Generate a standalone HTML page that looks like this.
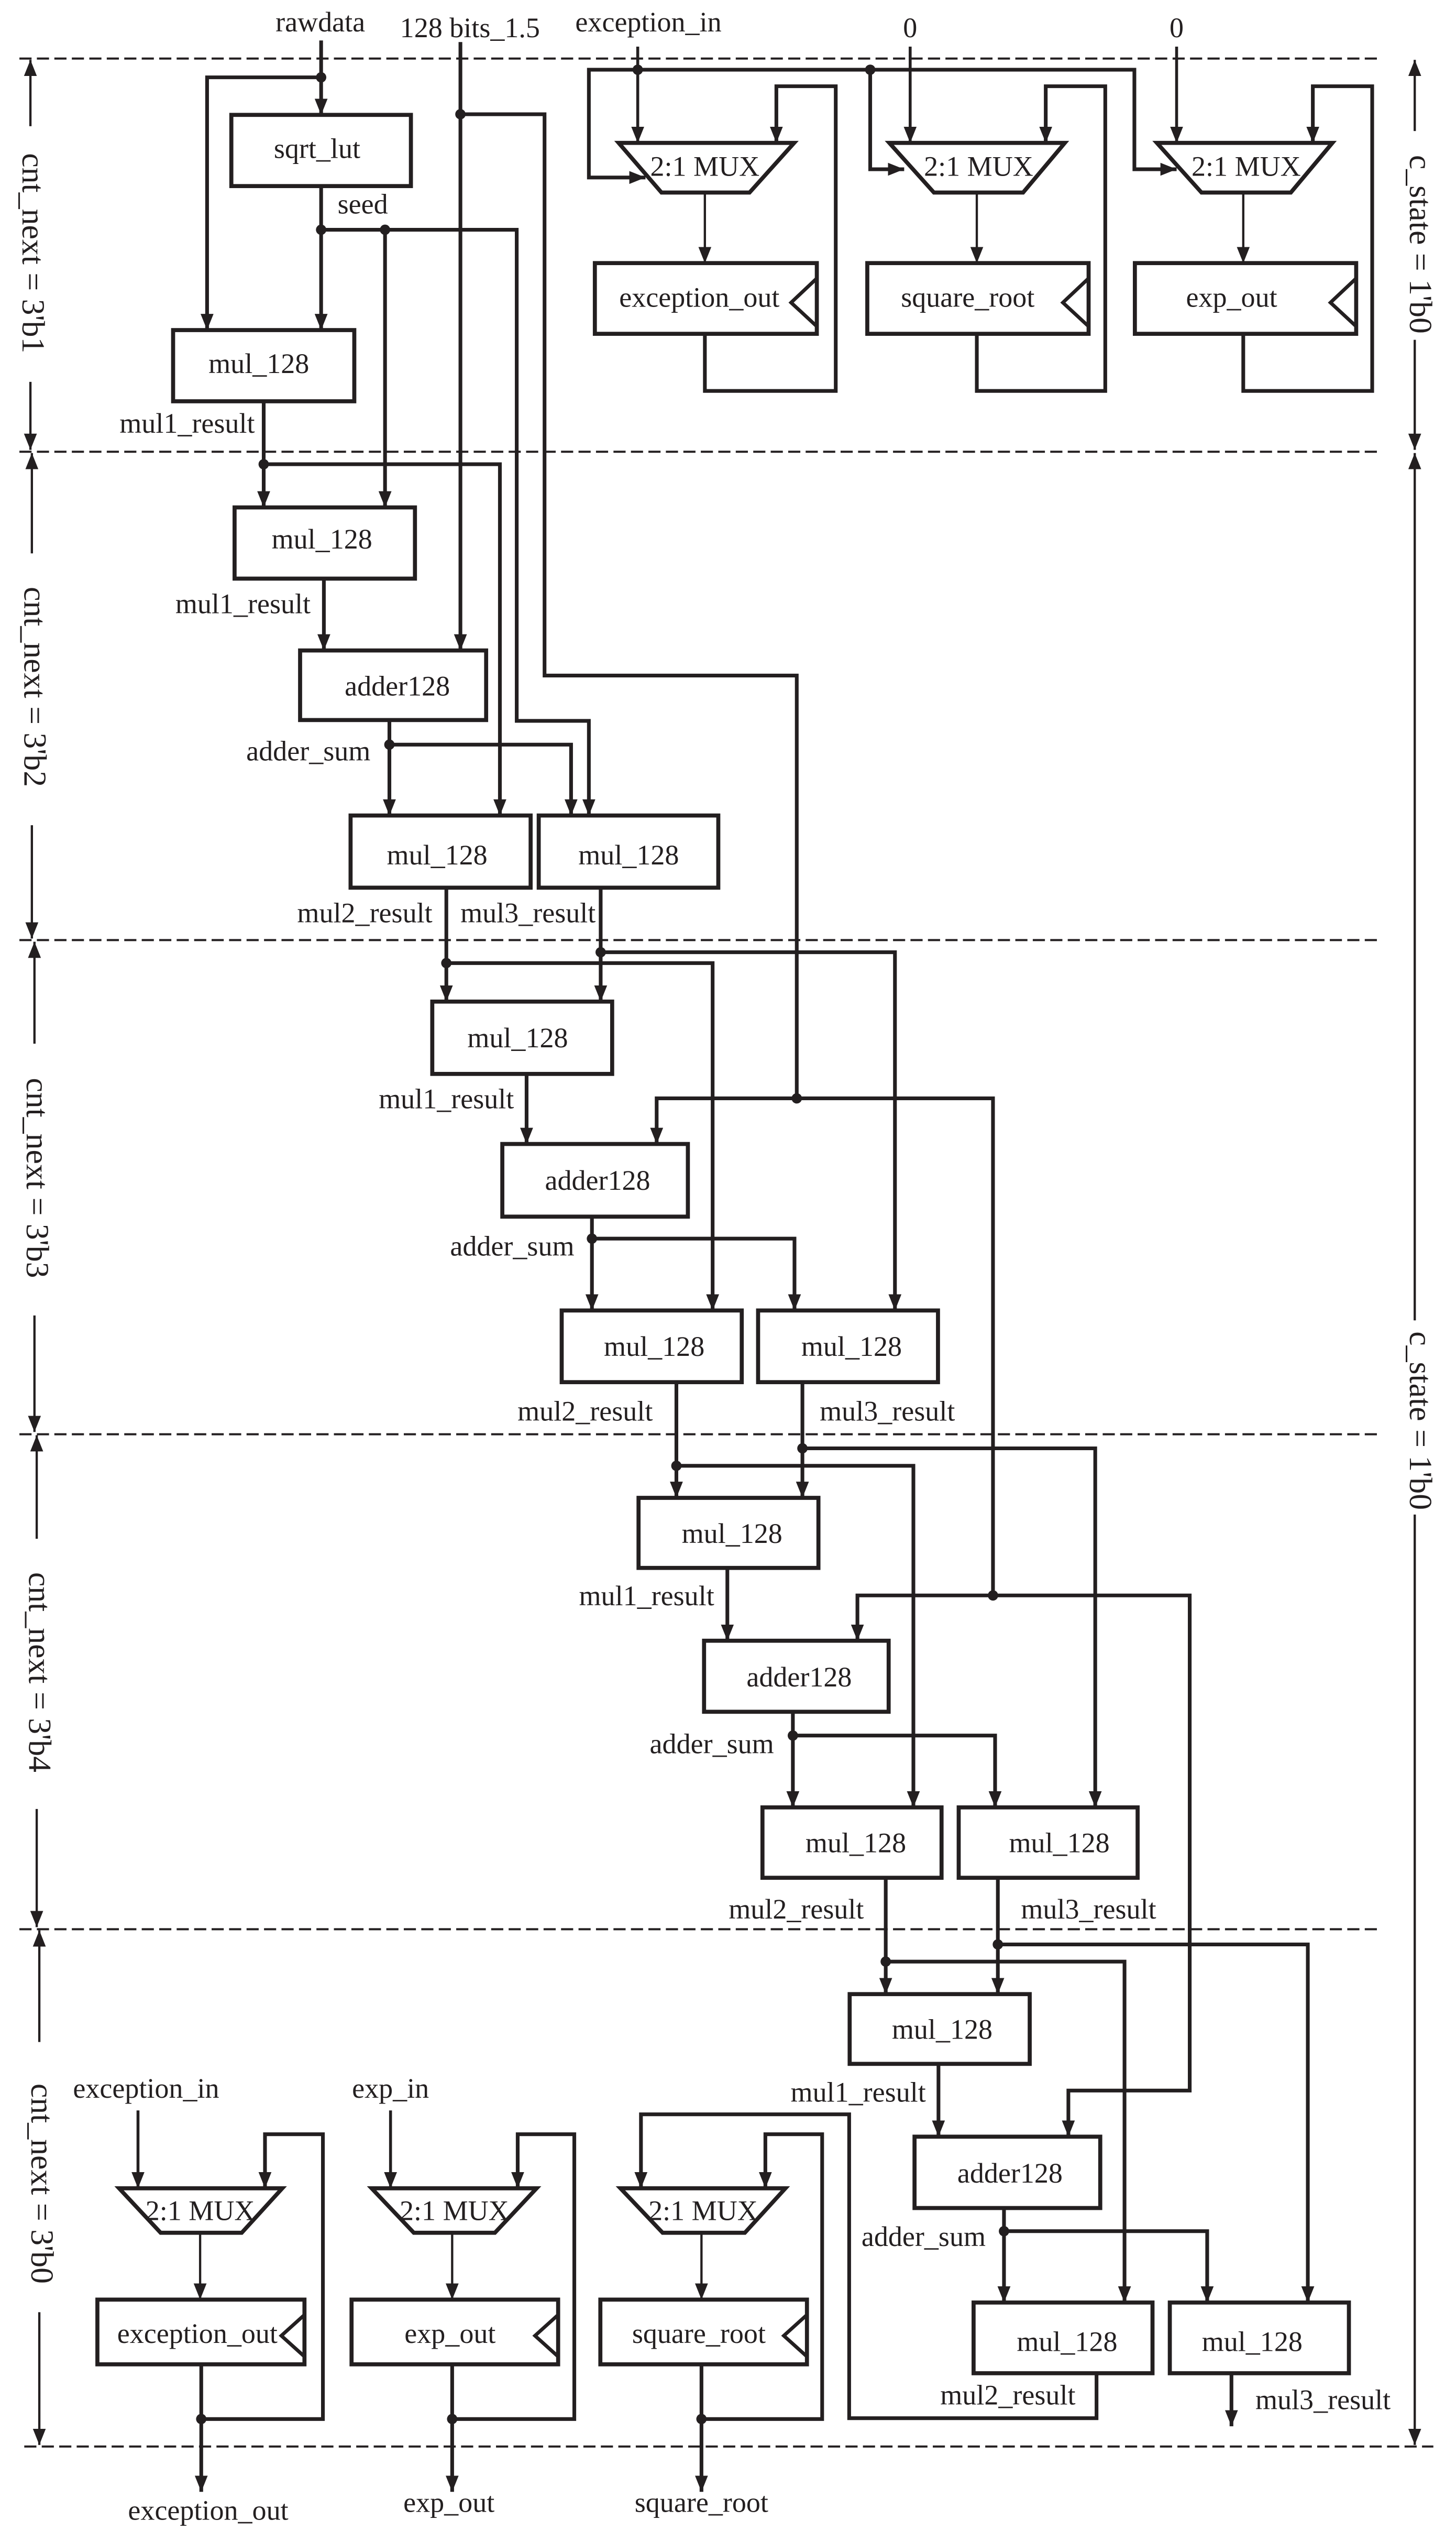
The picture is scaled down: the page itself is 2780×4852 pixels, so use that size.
<!DOCTYPE html>
<html><head><meta charset="utf-8"><style>
html,body{margin:0;padding:0;background:#fff}
svg{display:block}
text{font-family:"Liberation Serif","Times New Roman",serif;font-size:17.5px;fill:#231f20}
.w{fill:none;stroke:#231f20;stroke-width:2.3;stroke-linejoin:miter}
.t{fill:none;stroke:#231f20;stroke-width:1.4}
.b{fill:#fff;stroke:#231f20;stroke-width:2.5}
.d{fill:none;stroke:#231f20;stroke-width:1.3;stroke-dasharray:7.5 3.3}
.s{font-size:20px}
</style></head><body>
<svg width="2780" height="4852" viewBox="0 0 900 1571" preserveAspectRatio="none" xmlns="http://www.w3.org/2000/svg">
<defs><marker id="a" markerUnits="userSpaceOnUse" markerWidth="10" markerHeight="8" refX="10" refY="4" orient="auto"><path d="M0,0L10,4L0,8z" fill="#231f20"/></marker></defs>
<g fill="#231f20">
</g>
<!-- dashed separators -->
<path class="d" d="M12,36.2H852M12,279.2H852M12,581H852M12,886.4H852M12,1192.3H852M15,1512H886"/>
<!-- side labels -->
<g class="t" marker-end="url(#a)">
<path d="M18.8,78V37"/><path d="M18.8,236V278"/>
<path d="M19.7,342V280"/><path d="M19.7,510V580"/>
<path d="M21.3,645V582"/><path d="M21.3,813V885"/>
<path d="M22.7,951V887"/><path d="M22.7,1118V1191"/>
<path d="M24.3,1262V1193"/><path d="M24.3,1429V1511"/>
<path d="M874.5,81V37"/><path d="M874.5,210V278"/>
<path d="M874.5,816V280"/><path d="M874.5,936V1511"/>
</g>
<text class="s" transform="translate(14,156.5) rotate(90)" text-anchor="middle">cnt_next = 3'b1</text>
<text class="s" transform="translate(15,424.5) rotate(90)" text-anchor="middle">cnt_next = 3'b2</text>
<text class="s" transform="translate(16.5,728) rotate(90)" text-anchor="middle">cnt_next = 3'b3</text>
<text class="s" transform="translate(18,1033.5) rotate(90)" text-anchor="middle">cnt_next = 3'b4</text>
<text class="s" transform="translate(19.5,1349.5) rotate(90)" text-anchor="middle">cnt_next = 3'b0</text>
<text class="s" transform="translate(871.5,151) rotate(90)" text-anchor="middle">c_state = 1'b0</text>
<text class="s" transform="translate(871.5,878) rotate(90)" text-anchor="middle">c_state = 1'b0</text>

<!-- wires with arrows -->
<g class="w" marker-end="url(#a)">
<path d="M198.5,25V71"/>
<path d="M198.5,47.8H128V204"/>
<path d="M198.5,115V204"/>
<path d="M198.5,142H319.4V445.5H364V504"/>
<path d="M238,142V313.6"/>
<path d="M284.6,26V402"/>
<path d="M284.6,70.6H336.6V417.5H492.5V678.8H613.8V986H735.4V1292H660.4V1320.5"/>
<path d="M492.5,678.8H405.9V707"/>
<path d="M613.8,986H530V1014"/>
<path d="M163,248V313.6"/>
<path d="M163,286.9H309V504"/>
<path d="M200.2,357.6V402"/>
<path d="M240.7,445V504"/>
<path d="M240.7,460.2H353V504"/>
<path d="M275.9,548.6V619"/>
<path d="M275.9,595.2H440.5V809.9"/>
<path d="M371.3,548.6V619"/>
<path d="M371.3,588.5H553.2V809.9"/>
<path d="M325.5,663.7V707"/>
<path d="M365.9,751.9V809.9"/>
<path d="M365.9,765.5H491.1V809.9"/>
<path d="M418.1,854.2V925.7"/>
<path d="M418.1,905.9H564.6V1117"/>
<path d="M496,854.2V925.7"/>
<path d="M496,895.1H677V1117"/>
<path d="M449.6,969V1014"/>
<path d="M490.1,1057.9V1117"/>
<path d="M490.1,1072.6H615.1V1117"/>
<path d="M547.5,1160.5V1232.4"/>
<path d="M547.5,1212.3H695.1V1423"/>
<path d="M616.8,1160.5V1232.4"/>
<path d="M616.8,1201.7H808.4V1423"/>
<path d="M580.1,1275.5V1320.5"/>
<path d="M620.6,1364.6V1423"/>
<path d="M620.6,1378.9H746.2V1423"/>
<path d="M677.8,1466.7V1494.5H524.9V1306.7H396.2V1352.4"/>
<path d="M761.2,1466.7V1499.5"/>
<!-- top right -->
<path d="M394.2,43.1H364V109.7H399"/>
<path d="M394.2,43.1H701.2V104.6H727.3"/>
<path d="M537.9,43.1V104.6H558.9"/>
<path d="M435.7,206.3V241.6H516.6V53.3H479.9V88.3"/>
<path d="M603.8,206.3V241.6H683.2V53.3H646.4V88.3"/>
<path d="M768.5,206.3V241.6H848.2V53.3H811.5V88.3"/>
<!-- bottom left -->
<path d="M124.4,1495H199.6V1319H163.8V1352.4"/>
<path d="M279.5,1495H355V1319H320V1352.4"/>
<path d="M433.6,1495H508.2V1319H473.1V1352.4"/>
<path d="M124.4,1461.2V1540"/>
<path d="M279.5,1461.2V1540"/>
<path d="M433.6,1461.2V1540"/>
</g>
<g class="t" style="stroke-width:1.8" marker-end="url(#a)">
<path d="M394.2,28.8V88.3"/>
<path d="M562.6,28.8V88.3"/>
<path d="M727.3,28.8V88.3"/>
<path d="M85.3,1304.3V1352.4"/>
<path d="M241.4,1304.3V1352.4"/>
</g>
<g class="t" marker-end="url(#a)">
<path d="M435.7,119V162.6"/>
<path d="M603.8,119V162.6"/>
<path d="M768.5,119V162.6"/>
<path d="M123.7,1379.9V1421.2"/>
<path d="M279.5,1379.9V1421.2"/>
<path d="M433.6,1379.9V1421.2"/>
</g>

<!-- dots -->
<g fill="#231f20">
<circle cx="198.5" cy="47.8" r="3.2"/><circle cx="198.5" cy="142" r="3.2"/><circle cx="238" cy="142" r="3.2"/>
<circle cx="284.6" cy="70.6" r="3.2"/><circle cx="163" cy="286.9" r="3.2"/><circle cx="240.7" cy="460.2" r="3.2"/>
<circle cx="275.9" cy="595.2" r="3.2"/><circle cx="371.3" cy="588.5" r="3.2"/><circle cx="492.5" cy="678.8" r="3.2"/>
<circle cx="365.9" cy="765.5" r="3.2"/><circle cx="418.1" cy="905.9" r="3.2"/><circle cx="496" cy="895.1" r="3.2"/>
<circle cx="613.8" cy="986" r="3.2"/><circle cx="490.1" cy="1072.6" r="3.2"/><circle cx="547.5" cy="1212.3" r="3.2"/>
<circle cx="616.8" cy="1201.7" r="3.2"/><circle cx="620.6" cy="1378.9" r="3.2"/>
<circle cx="394.2" cy="43.1" r="3.2"/><circle cx="537.9" cy="43.1" r="3.2"/>
<circle cx="124.4" cy="1495" r="3.2"/><circle cx="279.5" cy="1495" r="3.2"/><circle cx="433.6" cy="1495" r="3.2"/>
</g>

<!-- boxes -->
<g class="b">
<rect x="143" y="71" width="111" height="44"/>
<rect x="107" y="204" width="112" height="44"/>
<rect x="145" y="313.6" width="111.5" height="44"/>
<rect x="185.5" y="402" width="115" height="43"/>
<rect x="216.7" y="504" width="111.3" height="44.6"/>
<rect x="333" y="504" width="111" height="44.6"/>
<rect x="267.2" y="619" width="111.2" height="44.7"/>
<rect x="310.5" y="707" width="114.7" height="44.9"/>
<rect x="347.2" y="809.9" width="111.3" height="44.3"/>
<rect x="468.6" y="809.9" width="111.2" height="44.3"/>
<rect x="394.7" y="925.7" width="111.2" height="43.3"/>
<rect x="435.2" y="1014" width="114.1" height="43.9"/>
<rect x="471.3" y="1117" width="110.7" height="43.5"/>
<rect x="592.6" y="1117" width="110.6" height="43.5"/>
<rect x="525.2" y="1232.4" width="111.3" height="43.1"/>
<rect x="565.3" y="1320.5" width="114.8" height="44.1"/>
<rect x="601.8" y="1423" width="110.6" height="43.7"/>
<rect x="723.1" y="1423" width="110.7" height="43.7"/>
<!-- registers -->
<rect x="367.7" y="162.6" width="137.2" height="43.7"/>
<rect x="536.1" y="162.6" width="136.8" height="43.7"/>
<rect x="701.5" y="162.6" width="136.8" height="43.7"/>
<rect x="60.2" y="1421.2" width="128" height="40"/>
<rect x="217.3" y="1421.2" width="127.7" height="40"/>
<rect x="371.1" y="1421.2" width="127.7" height="40"/>
<!-- muxes -->
<polygon points="382.4,88.3 490.9,88.3 463.3,119 408.9,119"/>
<polygon points="549.7,88.3 658.2,88.3 632.4,119 577.3,119"/>
<polygon points="715.1,88.3 823.6,88.3 797.9,119 742.7,119"/>
<polygon points="73.6,1352.4 174.5,1352.4 149.4,1379.9 99.3,1379.9"/>
<polygon points="229.7,1352.4 331.7,1352.4 305.9,1379.9 255.8,1379.9"/>
<polygon points="383.5,1352.4 485.5,1352.4 460.4,1379.9 409.6,1379.9"/>
</g>
<!-- clock triangles -->
<g class="w" style="stroke-width:2.2">
<path d="M504.9,172L489,187L504.9,201.7"/>
<path d="M672.9,172L657,187L672.9,201.7"/>
<path d="M838.3,172L822.4,187L838.3,201.7"/>
<path d="M188.2,1430.6L173.9,1443.5L188.2,1456.4"/>
<path d="M345,1430.6L330.7,1443.5L345,1456.4"/>
<path d="M498.8,1430.6L484.5,1443.5L498.8,1456.4"/>
</g>

<!-- texts -->
<g text-anchor="middle">
<text x="198" y="19.5">rawdata</text>
<text x="290.5" y="23">128 bits_1.5</text>
<text x="400.8" y="19.5">exception_in</text>
<text x="562.6" y="23">0</text>
<text x="727.3" y="23">0</text>
<text x="196" y="97.6">sqrt_lut</text>
<text x="160" y="230.5">mul_128</text>
<text x="199" y="339">mul_128</text>
<text x="245.6" y="429.9">adder128</text>
<text x="270.2" y="534.2">mul_128</text>
<text x="388.6" y="534.2">mul_128</text>
<text x="320" y="647.2">mul_128</text>
<text x="369.4" y="735.3">adder128</text>
<text x="404.4" y="838">mul_128</text>
<text x="526.4" y="838">mul_128</text>
<text x="452.5" y="953.5">mul_128</text>
<text x="494" y="1042.2">adder128</text>
<text x="529" y="1144.8">mul_128</text>
<text x="654.8" y="1144.8">mul_128</text>
<text x="582.4" y="1260">mul_128</text>
<text x="624.3" y="1348.9">adder128</text>
<text x="659.6" y="1453">mul_128</text>
<text x="774" y="1453">mul_128</text>
<text x="435.7" y="108.7">2:1 MUX</text>
<text x="604.9" y="108.7">2:1 MUX</text>
<text x="770.3" y="108.7">2:1 MUX</text>
<text x="432.3" y="189.6">exception_out</text>
<text x="598.2" y="189.6">square_root</text>
<text x="761.3" y="189.6">exp_out</text>
<text x="90.3" y="1296.4">exception_in</text>
<text x="241.4" y="1296.4">exp_in</text>
<text x="123.7" y="1372">2:1 MUX</text>
<text x="280.8" y="1372">2:1 MUX</text>
<text x="434.6" y="1372">2:1 MUX</text>
<text x="122" y="1447.9">exception_out</text>
<text x="278.2" y="1447.9">exp_out</text>
<text x="432" y="1447.9">square_root</text>
<text x="128.7" y="1557.3">exception_out</text>
<text x="277.5" y="1552.4">exp_out</text>
<text x="433.6" y="1552.4">square_root</text>
</g>
<g text-anchor="end">
<text x="157.5" y="267.5">mul1_result</text>
<text x="192" y="379">mul1_result</text>
<text x="229" y="470">adder_sum</text>
<text x="267.3" y="570">mul2_result</text>
<text x="317.7" y="685">mul1_result</text>
<text x="355" y="776">adder_sum</text>
<text x="403.5" y="878">mul2_result</text>
<text x="441.5" y="992">mul1_result</text>
<text x="478.4" y="1083.6">adder_sum</text>
<text x="534" y="1185.7">mul2_result</text>
<text x="572.3" y="1298.8">mul1_result</text>
<text x="609.3" y="1388">adder_sum</text>
<text x="664.8" y="1486">mul2_result</text>
</g>
<text x="208.7" y="132">seed</text>
<text x="284.6" y="570">mul3_result</text>
<text x="506.7" y="878">mul3_result</text>
<text x="631.1" y="1185.7">mul3_result</text>
<text x="776" y="1489">mul3_result</text>
</svg>
</body></html>
